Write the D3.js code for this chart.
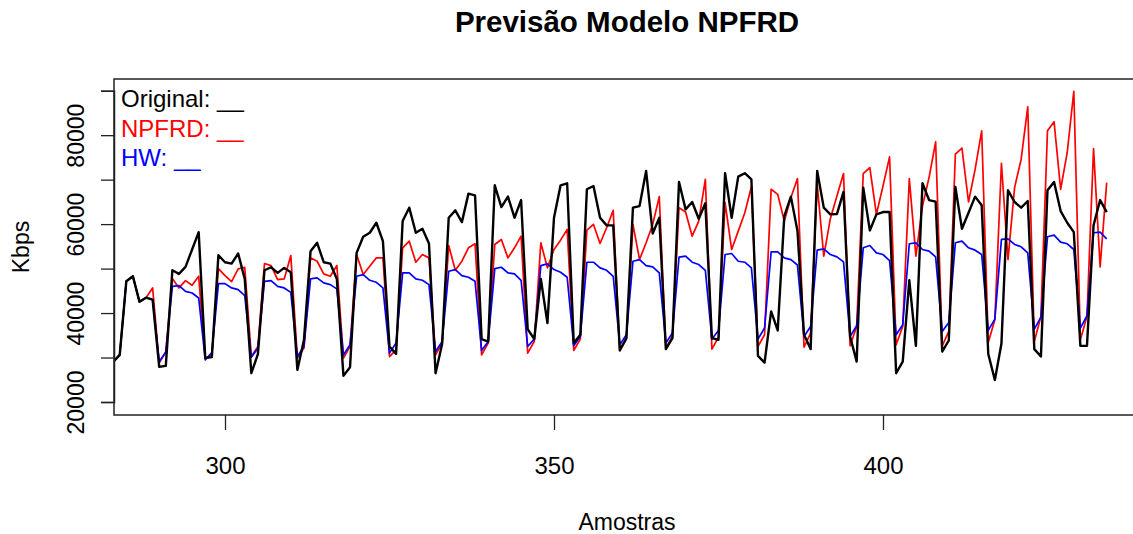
<!DOCTYPE html>
<html>
<head>
<meta charset="utf-8">
<script src="https://cdn.jsdelivr.net/npm/d3@7"></script>
<style>
  html, body { margin: 0; padding: 0; background: #fff; }
  svg text { font-family: "Liberation Sans", Arial, Helvetica, sans-serif; }
</style>
</head>
<body>
<svg id="chart" width="1133" height="534"></svg>
<script>
// Sample index of the first observation
const firstSample = 283;

// Observed traffic (Kbps)
const original = [
  29000, 30600, 47140, 48270, 42560, 43460, 43030, 27900, 28120, 49620,
  48800, 50390, 54290, 58200, 29860, 30080, 53010, 51430, 51130, 53390,
  47680, 26470, 30760, 49620, 50300, 49030, 50160, 49170, 27220, 33990,
  53900, 55800, 51430, 51130, 47680, 25870, 27830, 53540, 57150, 58060,
  60310, 56170, 32480, 30830, 60680, 63700, 58060, 58960, 55640, 26470,
  33020, 61440, 63090, 60450, 66860, 66480, 34150, 33600, 68730, 63830,
  66180, 61440, 65410, 36400, 34150, 47680, 37750, 61440, 68730, 69180,
  33250, 35120, 67830, 68570, 61440, 59710, 59710, 31580, 34370, 63700,
  64060, 71960, 57900, 61440, 31890, 34370, 69480, 63320, 64970, 61220,
  64670, 34370, 33990, 71440, 61440, 70690, 71440, 70080, 30380, 28870,
  40370, 36090, 61800, 66180, 58500, 35120, 31890, 71960, 63700, 62190,
  62260, 67230, 34740, 29090, 68210, 58580, 62190, 62710, 62710, 26470,
  29090, 47370, 32630, 69180, 65410, 65050, 31350, 33830, 68350, 58960,
  62560, 66180, 64220, 30800, 24960, 33080, 67600, 64970, 63700, 65200,
  31890, 30220, 67600, 69480, 62930, 60310, 58200, 32630, 32630, 59710,
  65410, 62710
];

// NPFRD model forecast (Kbps)
const npfrd = [
  29000, 30600, 47140, 48270, 42560, 43460, 45650, 28730, 31350, 47750,
  45650, 47300, 46240, 48270, 29860, 30600, 50000, 48430, 47070, 49940,
  50300, 30220, 32480, 51130, 50680, 47520, 47680, 52940, 29860, 32110,
  52410, 51650, 48800, 48270, 50680, 29860, 32480, 53160, 48650, 50520,
  52410, 52410, 30220, 31730, 54670, 56170, 51430, 53160, 52410, 30600,
  33250, 55190, 49620, 51650, 54670, 55580, 30600, 33250, 55420, 56550,
  52410, 54670, 57290, 30990, 33600, 55800, 50160, 54290, 56390, 58800,
  31580, 34150, 58650, 59930, 55640, 59180, 63090, 31580, 34150, 59930,
  52030, 55800, 59930, 66180, 32110, 34740, 63700, 62710, 57290, 60680,
  70080, 31890, 34600, 64830, 54290, 58420, 62560, 68420, 32480, 35120,
  67830, 66700, 60680, 65950, 70240, 32330, 35500, 68960, 52790, 61220,
  66330, 71370, 32630, 36990, 71370, 72710, 62190, 68570, 75110, 32860,
  36990, 70240, 52790, 64060, 70460, 78500, 32630, 35860, 75720, 77080,
  64970, 72300, 80980, 33380, 38500, 73690, 52030, 68210, 74600, 86390,
  33600, 39250, 80980, 83010, 67830, 76110, 89870, 33990, 39250, 77000,
  50390, 69330
];

// Holt-Winters forecast (Kbps)
const hw = [
  29000, 30600, 47140, 48270, 42560, 43460, 43000, 29090, 31120, 46010,
  46170, 44880, 44520, 43390, 29480, 31120, 46620, 46620, 45650, 45270,
  43910, 30080, 32110, 47140, 47300, 46010, 45650, 44660, 30220, 32480,
  47680, 47900, 46780, 46400, 45430, 30600, 32860, 48270, 48650, 47370,
  46920, 45650, 30990, 33250, 49030, 49030, 47680, 47370, 46400, 31350,
  33600, 49400, 49780, 48430, 48050, 47140, 31580, 33600, 50000, 50300,
  49030, 48800, 47370, 32480, 34150, 50680, 51060, 49780, 49170, 48050,
  32630, 34740, 51430, 51430, 50160, 49620, 48270, 32860, 35120, 51650,
  52030, 50680, 50390, 49030, 33250, 35500, 52560, 52790, 51430, 50910,
  49620, 34150, 36090, 53160, 53390, 51650, 51430, 50160, 34150, 36630,
  53770, 53770, 52410, 52030, 50800, 34740, 36990, 54140, 54440, 53160,
  52640, 51510, 34740, 37140, 54670, 55190, 53540, 53160, 51810, 35120,
  37370, 55580, 55800, 54290, 53910, 52640, 35860, 37890, 55800, 56170,
  54670, 54140, 53160, 36090, 38650, 56550, 56700, 55420, 54900, 53540,
  36400, 39100, 57150, 57520, 55950, 55580, 54290, 36630, 39400, 58060,
  58200, 56700
];

const xTicks = [300, 350, 400];
const yTicks = [20000, 30000, 40000, 50000, 60000, 70000, 80000, 90000];
const yLabelled = [20000, 40000, 60000, 80000];

const legendItems = [
  { label: "Original: __", color: "#000000" },
  { label: "NPFRD: __", color: "#ff0000" },
  { label: "HW: __", color: "#0000ff" }
];

const plot = { left: 114, right: 1140, top: 79, bottom: 415 };

const svg = d3.select("#chart");

const x = d3.scaleLinear()
  .domain([283.13, 439.06])
  .range([plot.left, plot.right]);

const y = d3.scaleLinear()
  .domain([20000, 90000])
  .range([402, 90.7]);

svg.append("defs").append("clipPath").attr("id", "plotClip")
  .append("rect")
  .attr("x", plot.left).attr("y", plot.top)
  .attr("width", plot.right - plot.left)
  .attr("height", plot.bottom - plot.top);

const line = d3.line()
  .x((d, i) => x(firstSample + i))
  .y(d => y(d));

const seriesGroup = svg.append("g").attr("clip-path", "url(#plotClip)");

seriesGroup.append("path").datum(npfrd)
  .attr("d", line).attr("fill", "none")
  .attr("stroke", "#ff0000").attr("stroke-width", 1.7)
  .attr("stroke-linejoin", "round");

seriesGroup.append("path").datum(hw)
  .attr("d", line).attr("fill", "none")
  .attr("stroke", "#0000ff").attr("stroke-width", 1.7)
  .attr("stroke-linejoin", "round");

seriesGroup.append("path").datum(original)
  .attr("d", line).attr("fill", "none")
  .attr("stroke", "#000000").attr("stroke-width", 2.4)
  .attr("stroke-linejoin", "round");

// Plot frame
svg.append("rect")
  .attr("x", plot.left).attr("y", plot.top)
  .attr("width", plot.right - plot.left)
  .attr("height", plot.bottom - plot.top)
  .attr("fill", "none").attr("stroke", "#222").attr("stroke-width", 1.5);

// Y axis
const yAxis = svg.append("g")
  .attr("transform", `translate(${plot.left},0)`)
  .call(d3.axisLeft(y).tickValues(yTicks).tickSize(13)
    .tickFormat(d => yLabelled.includes(d) ? String(d) : ""));
yAxis.select(".domain").attr("stroke", "#222").attr("stroke-width", 1.5);
yAxis.selectAll(".tick line").attr("stroke", "#222").attr("stroke-width", 1.3);
yAxis.selectAll(".tick text")
  .attr("x", null).attr("dy", null)
  .attr("transform", "translate(-30,0) rotate(-90)")
  .attr("text-anchor", "middle")
  .attr("fill", "#000")
  .style("font-size", "23px")
  .style("font-family", '"Liberation Sans", Arial, sans-serif');

// X axis
const xAxis = svg.append("g")
  .attr("transform", `translate(0,${plot.bottom})`)
  .call(d3.axisBottom(x).tickValues(xTicks).tickSize(15).tickFormat(d3.format("d")));
xAxis.select(".domain").remove();
xAxis.selectAll(".tick line").attr("stroke", "#222").attr("stroke-width", 1.3);
xAxis.selectAll(".tick text")
  .attr("y", 59).attr("dy", null)
  .attr("fill", "#000")
  .style("font-size", "24px")
  .style("font-family", '"Liberation Sans", Arial, sans-serif');

// Title and axis titles
svg.append("text")
  .attr("x", 627).attr("y", 32)
  .attr("text-anchor", "middle")
  .style("font-size", "29.5px").style("font-weight", "bold")
  .text("Previsão Modelo NPFRD");

svg.append("text")
  .attr("x", 627).attr("y", 530)
  .attr("text-anchor", "middle")
  .style("font-size", "23px")
  .text("Amostras");

svg.append("text")
  .attr("transform", "translate(29,247) rotate(-90)")
  .attr("text-anchor", "middle")
  .style("font-size", "23px")
  .text("Kbps");

// Legend
svg.append("g").selectAll("text")
  .data(legendItems)
  .join("text")
  .attr("x", 121)
  .attr("y", (d, i) => 107 + i * 29.5)
  .attr("fill", d => d.color)
  .style("font-size", "24px")
  .text(d => d.label);
</script>
</body>
</html>
